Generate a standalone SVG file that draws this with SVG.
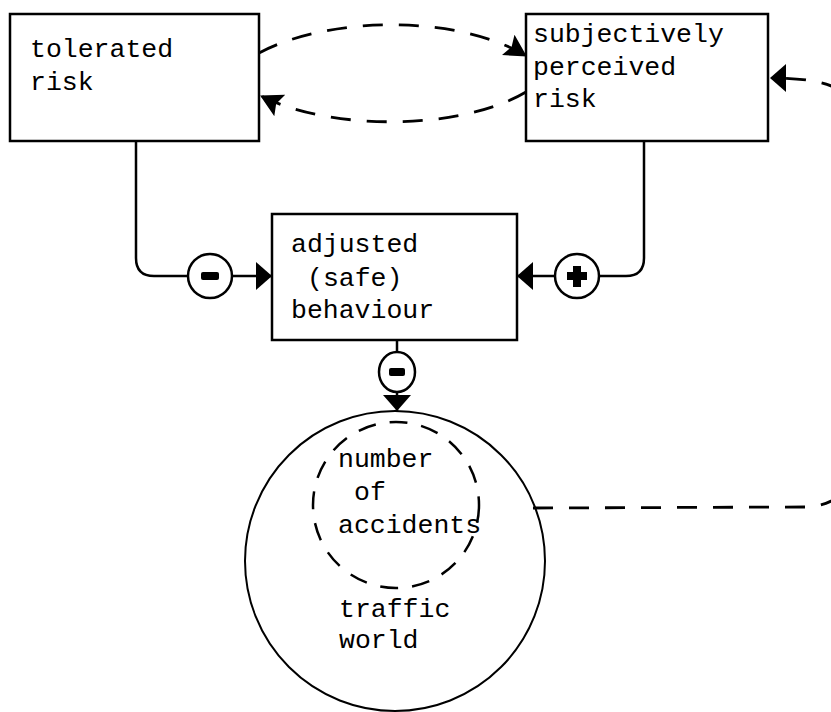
<svg xmlns="http://www.w3.org/2000/svg" width="831" height="712" viewBox="0 0 831 712">
<style>
.box{fill:#fff;stroke:#000;stroke-width:2.5}
.lbl{font-family:"Liberation Mono","Courier New",monospace;font-size:26.5px;fill:#000}
.solid{fill:none;stroke:#000;stroke-width:2.5}
.dash{fill:none;stroke:#000;stroke-width:2.8;stroke-dasharray:20 16}
.sign{fill:#fff;stroke:#000;stroke-width:2.5}
</style>
<defs>
<marker id="ah" markerUnits="userSpaceOnUse" markerWidth="16" markerHeight="28" viewBox="0 0 16 28" refX="16" refY="14" orient="auto">
<path d="M0,0 L16,14 L0,28 Z" fill="#000"/>
</marker>
<marker id="ahd" markerUnits="userSpaceOnUse" markerWidth="22" markerHeight="24" viewBox="0 0 22 24" refX="21" refY="12" orient="auto">
<path d="M0,0 L22,12 L0,24 L4,12 Z" fill="#000"/>
</marker>
</defs>
<g id="connectors">
<path class="dash" d="M259 53 C330 15 460 15 526 56" marker-end="url(#ahd)"/>
<path class="dash" d="M526 92 C460 131 330 131 261 96" marker-end="url(#ahd)"/>
<path class="dash" d="M533 508 L805 507 C830 506 850 495 850 470 L850 110 C850 90 830 78 770 78" marker-end="url(#ah)"/>
<path class="solid" d="M136 141 L136 258 Q136 276 154 276 L188 276"/>
<path class="solid" d="M232 276 L272 276" marker-end="url(#ah)"/>
<path class="solid" d="M644 141 L644 258 Q644 276 626 276 L599 276"/>
<path class="solid" d="M555 276 L517 276" marker-end="url(#ah)"/>
<path class="solid" d="M397 340 L397 353"/>
<path class="solid" d="M397 391 L397 411" marker-end="url(#ah)"/>
<g id="sign-minus-left">
<circle class="sign" cx="210" cy="276" r="22"/>
<rect x="201" y="272" width="18" height="8" rx="2"/>
</g>
<g id="sign-plus-right">
<circle class="sign" cx="577" cy="276" r="22"/>
<path d="M573 266 h8 v6 h6 v8 h-6 v7 h-8 v-7 h-6 v-8 h6 Z"/>
</g>
<g id="sign-minus-bottom">
<ellipse class="sign" cx="397" cy="372" rx="18" ry="20"/>
<rect x="389" y="368" width="16" height="8" rx="2"/>
</g>
</g>
<g id="node-tolerated-risk">
<rect class="box" x="10" y="14" width="249" height="127"/>
<text class="lbl" x="30" y="57">tolerated</text>
<text class="lbl" x="30" y="90">risk</text>
</g>
<g id="node-perceived-risk">
<rect class="box" x="526" y="14" width="242" height="127"/>
<text class="lbl" x="533" y="42">subjectively</text>
<text class="lbl" x="533" y="75">perceived</text>
<text class="lbl" x="533" y="107">risk</text>
</g>
<g id="node-adjusted-behaviour">
<rect class="box" x="272" y="214" width="245" height="126"/>
<text class="lbl" x="291" y="252">adjusted</text>
<text class="lbl" x="307" y="286">(safe)</text>
<text class="lbl" x="291" y="318">behaviour</text>
</g>
<g id="node-traffic-world">
<circle cx="395" cy="561" r="150" fill="none" stroke="#000" stroke-width="2"/>
<text class="lbl" x="339" y="617">traffic</text>
<text class="lbl" x="339" y="648">world</text>
</g>
<g id="node-number-of-accidents">
<circle cx="396" cy="505" r="83" fill="none" stroke="#000" stroke-width="2.5" stroke-dasharray="18 14"/>
<text class="lbl" x="338" y="467">number</text>
<text class="lbl" x="354" y="500">of</text>
<text class="lbl" x="338" y="533">accidents</text>
</g>
</svg>
